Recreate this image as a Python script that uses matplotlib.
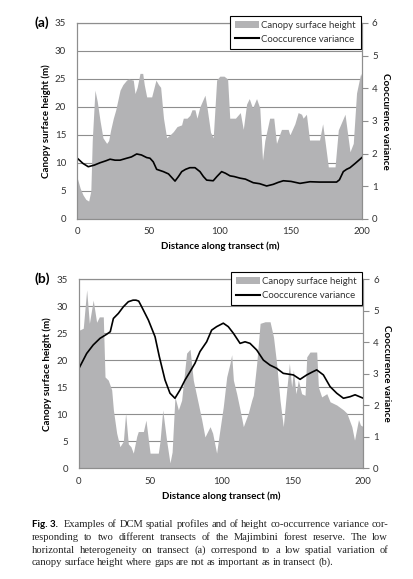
import matplotlib
matplotlib.use("Agg")
import matplotlib.pyplot as plt
from matplotlib.patches import Patch
from matplotlib.lines import Line2D

# transect (a): canopy surface height profile
dist_a = [0, 2, 4, 6, 8, 9.5, 10.5, 12.4, 14, 16, 18, 20.6, 22, 23.5, 25.3, 27, 30, 32, 34.6, 36,
          39.3, 40.5, 42, 44, 45.9, 47, 48.7, 52.2, 55.2, 57, 58.5, 60.5, 62.7, 65, 67.4, 70, 73.2,
          74.4, 77, 79, 80.5, 82.6, 84, 86, 89.6, 91, 93.5, 95.4, 97.8, 100, 103, 105.5, 107, 111,
          114.4, 116.5, 118.8, 120.7, 123, 125.8, 128.1, 130, 131.6, 135, 137.9, 139.8, 143.3, 148,
          149.2, 152.7, 155, 157.4, 158.5, 160.8, 163, 170, 172.2, 173.8, 176.2, 180.9, 183.2, 187.9,
          191.4, 193.7, 196, 198.9, 200]
height_a = [7.3, 5.5, 4.3, 3.5, 3.2, 5, 14, 23, 21, 17.5, 14.5, 13.5, 14, 16, 18, 19.5, 23, 24, 24.8, 25,
            24.8, 22.4, 23.5, 26, 26, 24, 21.8, 21.8, 24.8, 24, 23.5, 18, 14.5, 15, 15.6, 16.5, 16.8,
            18, 18, 18.5, 19.5, 19.5, 18, 20, 22.1, 20, 15.5, 14.5, 24.8, 25.5, 25.5, 25, 18, 18,
            19, 16, 20.5, 21.5, 19.8, 21.5, 19.8, 10.5, 14, 18, 18, 13.5, 16, 16,
            15, 17, 19, 18.7, 18, 18.7, 14.1, 14.1, 17, 14, 9.3, 9.3, 15.9, 18.7,
            12, 13.5, 22.5, 26, 25]

# transect (a): co-occurrence variance
vdist_a = [0, 4, 7.7, 12, 15.9, 20, 23, 26.5, 30, 34.7, 38, 41.7, 45, 48.7, 51, 53.3, 55.7, 60.4, 64,
           68.6, 71, 73.3, 76, 79, 82.6, 86.1, 88.5, 90.8, 95.4, 98, 101.3, 104, 107.2, 110, 114.2,
           118, 123.5, 128, 132.9, 137.5, 141, 144.6, 150, 156.3, 163.3, 170, 175, 182, 184, 186.7,
           189, 191.4, 195, 200]
var_a = [1.86, 1.7, 1.6, 1.65, 1.72, 1.78, 1.83, 1.8, 1.8, 1.86, 1.9, 1.99, 1.96, 1.88, 1.86, 1.75, 1.52,
         1.45, 1.38, 1.16, 1.3, 1.45, 1.52, 1.57, 1.57, 1.45, 1.3, 1.19, 1.17, 1.3, 1.45, 1.4, 1.32,
         1.3, 1.25, 1.22, 1.11, 1.08, 1.01, 1.06, 1.12, 1.17, 1.15, 1.09, 1.14, 1.13, 1.13, 1.13, 1.2,
         1.45, 1.52, 1.57, 1.7, 1.89]

# transect (b): canopy surface height profile
dist_b = [0, 0.7, 3, 5.4, 7.3, 10, 12.4, 14.3, 17.1, 18.3, 20.6, 23, 24.2, 26.5, 28.8, 31.2, 32.8, 34.7,
          36.5, 38.2, 40.6, 41.7, 45.3, 47.1, 50, 55.8, 57, 58.9, 61.7, 64, 65.5, 67.5, 69.9, 72.2,
          75.7, 78.1, 80.4, 83.9, 86.3, 88.6, 92.2, 94, 96.8, 98.5, 101.5, 103.9, 106.2, 107.4, 108.6,
          110.9, 113.3, 115.6, 119.1, 121.5, 122.6, 125, 127.4, 130.9, 134.4, 136.8, 139, 141.4,
          143.7, 146.1, 148, 149.6, 150.8, 152.6, 154.3, 156.6, 159, 160.2, 162.5, 167.2, 168.4,
          170.7, 174.3, 176.6, 181.3, 186, 188.4, 191.9, 193.8, 196.6, 198, 200]
height_b = [25.6, 25.6, 25.9, 33, 26.8, 31.1, 27, 28, 28, 16.9, 16.3, 14.5, 10.8, 6.5, 4, 5, 10.2, 4.5,
            4, 2.8, 5.9, 6.8, 6.8, 8.9, 2.8, 2.8, 5, 10.8, 5, 1, 3, 13.2, 10.8, 12.6,
            21.3, 22, 16.3, 12, 9, 5.8, 7.7, 6.5, 2.8, 6, 11.4, 16.9, 19.4, 21, 16.3,
            13.8, 10.8, 7.7, 10.2, 12.6, 13.5, 19.4, 26.8, 27.1, 27.1, 24.3, 19.4, 12.6,
            7.7, 14.5, 19.4, 15, 18.2, 13.8, 16.3, 13.8, 13.5, 20.6, 21.5, 21.5, 15,
            13.2, 13.8, 12.3, 11.7, 10.8, 10.2, 7.7, 5.2, 9, 8, 7.7]

# transect (b): co-occurrence variance
vdist_b = [0, 5.4, 10, 14.8, 19.5, 22, 24.2, 27.7, 31.2, 34.7, 38, 40.1, 42, 44.1, 48.8, 53.5, 56.5,
           60.5, 64, 67.5, 71, 74.6, 78.1, 81.6, 85.1, 89.8, 93.3, 96.8, 101.5, 105, 108.6, 113.3,
           116.8, 120.3, 125, 129.7, 134.4, 139, 143.7, 150.8, 155.5, 160.2, 164, 167.2, 171.9,
           176.6, 181.3, 186, 190.7, 194.2, 200]
var_b = [3.17, 3.64, 3.91, 4.12, 4.25, 4.33, 4.75, 4.91, 5.12, 5.28, 5.33, 5.33, 5.3, 5.12, 4.7, 4.17,
         3.54, 2.8, 2.38, 2.22, 2.48, 2.8, 3.06, 3.33, 3.7, 4.01, 4.38, 4.49, 4.6, 4.49, 4.28, 3.96,
         4.01, 3.96, 3.75, 3.43, 3.27, 3.17, 3.01, 2.96, 2.82, 2.96, 3.05, 3.12, 2.96, 2.59, 2.38,
         2.22, 2.27, 2.33, 2.22]

x_ticks = [0, 50, 100, 150, 200]
h_ticks = [0, 5, 10, 15, 20, 25, 30, 35]
v_ticks = [0, 1, 2, 3, 4, 5, 6]

caption = [
    "Examples of DCM spatial profiles and of height co-occurrence variance cor-",
    "responding to two different transects of the Majimbini forest reserve. The low",
    "horizontal heterogeneity on transect (a) correspond to a low spatial variation of",
    "canopy surface height where gaps are not as important as in transect (b).",
]

plt.rcParams['font.family'] = ['Lato', 'DejaVu Sans']
FILL = '#b3b3b5'
GRID = '#8e8e8e'
W, H = 414, 579

fig = plt.figure(figsize=(W / 100, H / 100), dpi=100)


def panel(rect, d, h, vd, v, tag):
    ax = fig.add_axes(rect)
    ax.fill_between(d, h, color=FILL, lw=0, zorder=2)
    ax.set_xlim(0, 200)
    ax.set_ylim(0, 35)
    ax.set_xticks(x_ticks)
    ax.set_yticks(h_ticks)
    ax.set_axisbelow(True)
    ax.grid(axis='y', color=GRID, lw=0.8)
    ax.tick_params(axis='both', length=0, labelsize=7, colors='#333333')
    ax.tick_params(axis='y', pad=8)
    ax.tick_params(axis='x', pad=6)
    for s in ax.spines.values():
        s.set_color(GRID)
        s.set_linewidth(0.8)
    ax.set_ylabel('Canopy surface height (m)', fontsize=7, fontweight='bold', labelpad=3)
    ax.set_xlabel('Distance along transect (m)', fontsize=7, fontweight='bold', labelpad=4)

    ax2 = ax.twinx()
    ax2.plot(vd, v, color='black', lw=1.2)
    ax2.set_ylim(0, 6)
    ax2.set_yticks(v_ticks)
    ax2.tick_params(axis='y', length=4, width=0.8, color=GRID, labelsize=7, labelcolor='#333333', pad=3)
    for s in ax2.spines.values():
        s.set_color(GRID)
        s.set_linewidth(0.8)
    ax2.set_ylabel('Cooccurence variance', fontsize=7, fontweight='bold', rotation=270, labelpad=9)

    handles = [Patch(facecolor=FILL, edgecolor='none'), Line2D([], [], color='black', lw=1.5)]
    leg = ax2.legend(handles, ['Canopy surface height', 'Cooccurence variance'],
                     loc='upper right', bbox_to_anchor=(0.995, 1.035), fontsize=6.9,
                     fancybox=False, framealpha=1, edgecolor='black', borderpad=0.5,
                     handlelength=2.5, handletextpad=0.3, labelspacing=0.5, borderaxespad=0)
    leg.get_frame().set_linewidth(0.8)
    for t in leg.get_texts():
        t.set_color('#333333')

    y_top = rect[1] + rect[3]
    fig.text(0.083, y_top, tag, fontsize=10, fontweight='bold', va='center', ha='left')
    return ax


panel([0.1867, 0.6218, 0.6883, 0.3385], dist_a, height_a, vdist_a, var_a, '(a)')
panel([0.1908, 0.1912, 0.6868, 0.3269], dist_b, height_b, vdist_b, var_b, '(b)')

# caption, justified line by line (baselines in pixels from the top)
serif = ['Liberation Serif', 'DejaVu Serif']
x_left, x_right = 32, 388
line_y = [527, 540, 553, 565]
renderer = fig.canvas.get_renderer()
fig.text(x_left / W, 1 - line_y[0] / H, 'Fig. 3.', fontsize=7, fontweight='bold',
         va='baseline', family=['Lato', 'DejaVu Sans'])
for i, line in enumerate(caption):
    start = 64 if i == 0 else x_left
    words = line.split()
    texts = [fig.text(0, 1 - line_y[i] / H, w, fontsize=7.6, family=serif, va='baseline',
                      color='#222222') for w in words]
    widths = [t.get_window_extent(renderer).width for t in texts]
    if i < len(caption) - 1:
        gap = (x_right - start - sum(widths)) / (len(words) - 1)
    else:
        gap = 2.3
    x = start
    for t, w in zip(texts, widths):
        t.set_x(x / W)
        x += w + gap

fig.savefig('out.png', dpi=100)
